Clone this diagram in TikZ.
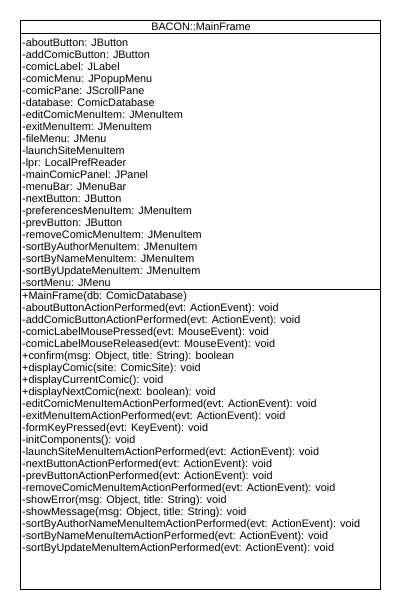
\documentclass[tikz,border=0pt]{standalone}
\usepackage{fontspec}
\setmainfont{Liberation Sans}
\usetikzlibrary{positioning}

\begin{document}
\begin{tikzpicture}[x=1pt, y=-1pt,
    member/.style={anchor=base west, inner sep=0pt, font=\fontsize{10.85}{12}\selectfont},
    classbox/.style={draw, line width=0.9pt, anchor=north west, inner sep=0pt,
        minimum width=360pt, minimum height=569pt}]
    \useasboundingbox (0,0) rectangle (400,610);
    \node[classbox] (cls) at (20,20) {};
    \node[member, anchor=base] (title) at (201,30.8) {BACON::MainFrame};
    % compartments
    \coordinate (sepA) at (20,33.7);
    \coordinate (sepB) at (20,289.3);
    \draw[line width=0.9pt] (sepA) -- (sepA -| cls.east);
    \draw[line width=0.9pt] (sepB) -- (sepB -| cls.east);
    % attributes
    \foreach \t [count=\i] in {-aboutButton: JButton, -addComicButton: JButton,
        -comicLabel: JLabel, -comicMenu: JPopupMenu, -comicPane: JScrollPane,
        -database: ComicDatabase, -editComicMenuItem: JMenuItem,
        -exitMenuItem: JMenuItem, -fileMenu: JMenu, -launchSiteMenuItem,
        -lpr: LocalPrefReader, -mainComicPanel: JPanel, -menuBar: JMenuBar,
        -nextButton: JButton, -preferencesMenuItem: JMenuItem, -prevButton: JButton,
        -removeComicMenuItem: JMenuItem, -sortByAuthorMenuItem: JMenuItem,
        -sortByNameMenuItem: JMenuItem, -sortByUpdateMenuItem: JMenuItem,
        -sortMenu: JMenu}
        \node[member] (attr\i) at (22,34.8+12*\i) {\t};
    % operations
    \foreach \t [count=\i] in {+MainFrame(db: ComicDatabase),
        -aboutButtonActionPerformed(evt: ActionEvent): void,
        -addComicButtonActionPerformed(evt: ActionEvent): void,
        -comicLabelMousePressed(evt: MouseEvent): void,
        -comicLabelMouseReleased(evt: MouseEvent): void,
        {+confirm(msg: Object, title: String): boolean},
        +displayComic(site: ComicSite): void,
        +displayCurrentComic(): void,
        +displayNextComic(next: boolean): void,
        -editComicMenuItemActionPerformed(evt: ActionEvent): void,
        -exitMenuItemActionPerformed(evt: ActionEvent): void,
        -formKeyPressed(evt: KeyEvent): void,
        -initComponents(): void,
        -launchSiteMenuItemActionPerformed(evt: ActionEvent): void,
        -nextButtonActionPerformed(evt: ActionEvent): void,
        -prevButtonActionPerformed(evt: ActionEvent): void,
        -removeComicMenuItemActionPerformed(evt: ActionEvent): void,
        {-showError(msg: Object, title: String): void},
        {-showMessage(msg: Object, title: String): void},
        -sortByAuthorNameMenuItemActionPerformed(evt: ActionEvent): void,
        -sortByNameMenuItemActionPerformed(evt: ActionEvent): void,
        -sortByUpdateMenuItemActionPerformed(evt: ActionEvent): void}
        \node[member] (op\i) at (22,287.5+12*\i) {\t};
\end{tikzpicture}
\end{document}
